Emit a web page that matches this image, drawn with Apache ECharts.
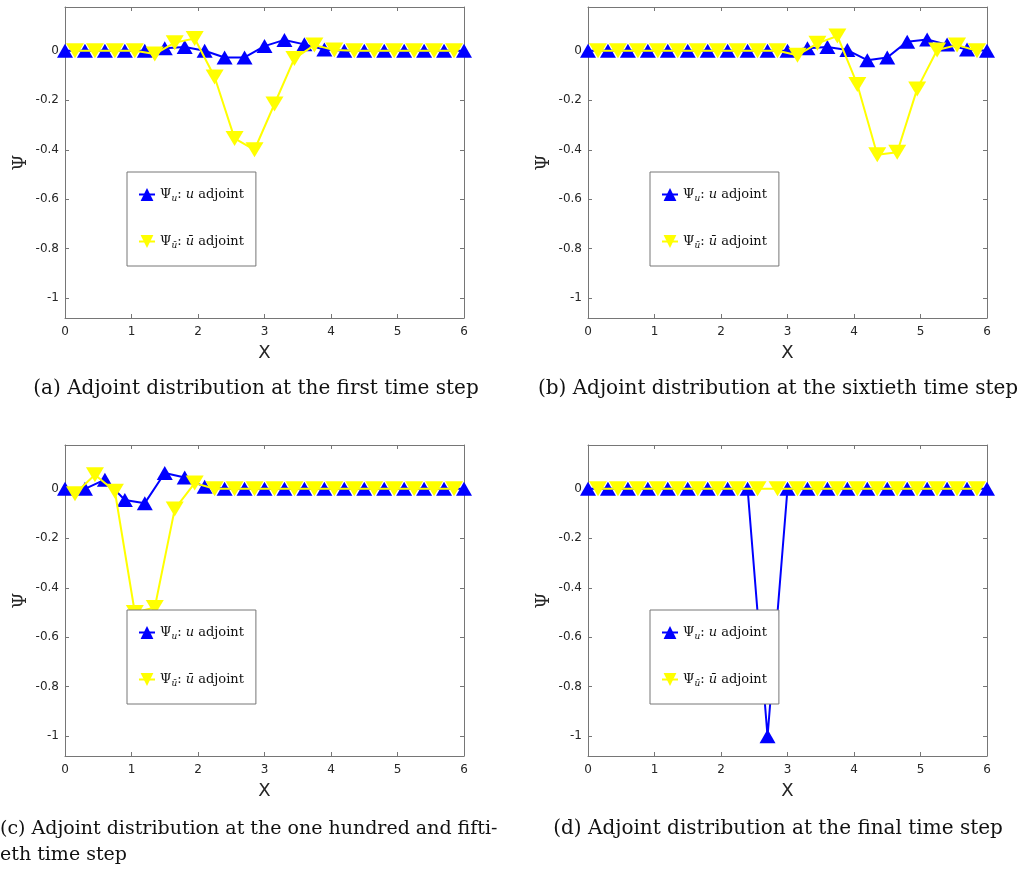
<!DOCTYPE html>
<html>
<head>
<meta charset="utf-8">
<script src="https://cdn.jsdelivr.net/npm/echarts@6/dist/echarts.min.js"></script>
<style>
  html, body { margin: 0; padding: 0; background: #fff; }
  #chart { width: 1025px; height: 869px; }
</style>
</head>
<body>
<div id="chart"></div>
<script>
// grid nodes carry u, cell centres carry u bar
const xNodes = [0, 0.3, 0.6, 0.9, 1.2, 1.5, 1.8, 2.1, 2.4, 2.7, 3.0, 3.3, 3.6, 3.9, 4.2, 4.5, 4.8, 5.1, 5.4, 5.7, 6.0]
const xCells = [0.15, 0.45, 0.75, 1.05, 1.35, 1.65, 1.95, 2.25, 2.55, 2.85, 3.15, 3.45, 3.75, 4.05, 4.35, 4.65, 4.95, 5.25, 5.55, 5.85]

// (a) first time step
const uFirst = [0, 0, 0, 0, 0, 0.01, 0.015, 0, -0.027, -0.027, 0.019, 0.044, 0.026, 0.005, 0, 0, 0, 0, 0, 0, 0]
const ubarFirst = [0, 0, 0, 0, -0.013, 0.033, 0.05, -0.106, -0.354, -0.4, -0.215, -0.031, 0.023, 0.003, 0, 0, 0, 0, 0, 0]
// (b) sixtieth time step
const uSixtieth = [0, 0, 0, 0, 0, 0, 0, 0, 0, 0, 0, 0.01, 0.015, 0.003, -0.038, -0.027, 0.037, 0.046, 0.025, 0.005, 0]
const ubarSixtieth = [0, 0, 0, 0, 0, 0, 0, 0, 0, 0, -0.018, 0.03, 0.06, -0.136, -0.42, -0.41, -0.154, 0.003, 0.023, 0]
// (c) one hundred and fiftieth time step
const u150 = [0, 0, 0.037, -0.045, -0.058, 0.064, 0.046, 0.008, 0, 0, 0, 0, 0, 0, 0, 0, 0, 0, 0, 0, 0]
const ubar150 = [-0.02, 0.057, -0.01, -0.5, -0.48, -0.082, 0.023, 0, 0, 0, 0, 0, 0, 0, 0, 0, 0, 0, 0, 0]
// (d) final time step
const uFinal = [0, 0, 0, 0, 0, 0, 0, 0, 0, -1, 0, 0, 0, 0, 0, 0, 0, 0, 0, 0, 0]
const ubarFinal = [0, 0, 0, 0, 0, 0, 0, 0, 0, 0, 0, 0, 0, 0, 0, 0, 0, 0, 0, 0]

const yTicks = [-1, -0.8, -0.6, -0.4, -0.2, 0]
const captions = [
  '(a) Adjoint distribution at the first time step',
  '(b) Adjoint distribution at the sixtieth time step',
  '(c) Adjoint distribution at the one hundred and fifti-',
  'eth time step',
  '(d) Adjoint distribution at the final time step'
]
const legendLabels = {
  u: '{n|Ψ}{s|u}{n|: }{i|u}{n| adjoint}',
  ubar: '{n|Ψ}{s|ū}{n|: }{i|ū}{n| adjoint}'
}

const uSets = [uFirst, uSixtieth, u150, uFinal]
const ubarSets = [ubarFirst, ubarSixtieth, ubar150, ubarFinal]
const gridPos = [[65, 7], [588, 7], [65, 445], [588, 445]]

const axisColor = '#767676'
const textColor = '#262626'

let grid = []
let xAxis = []
let yAxis = []
let legend = []
let series = []

gridPos.forEach((p, i) => {
  grid.push({ left: p[0], top: p[1], width: 399, height: 311 })
  let tick = { inside: true, length: 4, lineStyle: { color: axisColor } }
  let line = { show: true, onZero: false, lineStyle: { color: axisColor, width: 1 } }
  xAxis.push({
    gridIndex: i, type: 'value', min: 0, max: 6, interval: 1,
    axisLine: line, axisTick: tick, splitLine: { show: false },
    axisLabel: { color: textColor, fontSize: 12, fontFamily: 'DejaVu Sans', margin: 8 },
    name: 'X', nameLocation: 'middle', nameGap: 26,
    nameTextStyle: { color: textColor, fontSize: 18, fontFamily: 'DejaVu Sans' }
  })
  xAxis.push({
    gridIndex: i, type: 'value', position: 'top', min: 0, max: 6, interval: 1,
    axisLine: line, axisTick: tick, splitLine: { show: false }, axisLabel: { show: false }
  })
  yAxis.push({
    gridIndex: i, type: 'value', min: -1.08, max: 0.177,
    axisLine: line, splitLine: { show: false },
    axisTick: Object.assign({ customValues: yTicks }, tick),
    axisLabel: { customValues: yTicks, color: textColor, fontSize: 12, fontFamily: 'DejaVu Sans', margin: 6 },
    name: 'Ψ', nameLocation: 'middle', nameGap: 35,
    nameTextStyle: { color: textColor, fontSize: 18, fontFamily: 'DejaVu Serif' }
  })
  yAxis.push({
    gridIndex: i, type: 'value', position: 'right', min: -1.08, max: 0.177,
    axisLine: line, splitLine: { show: false },
    axisTick: Object.assign({ customValues: yTicks }, tick),
    axisLabel: { show: false }
  })
  legend.push({
    data: ['u', 'ubar'], orient: 'vertical', left: p[0] + 62, top: p[1] + 165,
    selectedMode: false, backgroundColor: '#fff', borderColor: axisColor, borderWidth: 1,
    borderRadius: 0, padding: [16, 12, 16, 11], itemGap: 32, itemWidth: 16, itemHeight: 16,
    formatter: n => legendLabels[n],
    textStyle: {
      color: '#111',
      rich: {
        n: { fontFamily: 'DejaVu Serif', fontSize: 13, lineHeight: 16, color: '#111' },
        i: { fontFamily: 'DejaVu Serif', fontStyle: 'italic', fontSize: 13, lineHeight: 16, color: '#111' },
        s: { fontFamily: 'DejaVu Serif', fontStyle: 'italic', fontSize: 9, lineHeight: 17, verticalAlign: 'bottom', color: '#111' }
      }
    }
  })
  series.push({
    name: 'u', type: 'line', xAxisIndex: 2 * i, yAxisIndex: 2 * i, z: 2,
    data: xNodes.map((x, k) => [x, uSets[i][k]]),
    symbol: 'triangle', symbolSize: [16, 14],
    itemStyle: { color: '#0000ff' }, lineStyle: { color: '#0000ff', width: 2 }
  })
  series.push({
    name: 'ubar', type: 'line', xAxisIndex: 2 * i, yAxisIndex: 2 * i, z: 3,
    data: xCells.map((x, k) => [x, ubarSets[i][k]]),
    symbol: 'triangle', symbolRotate: 180, symbolSize: [18, 15],
    itemStyle: { color: '#ffff00' }, lineStyle: { color: '#ffff00', width: 2 }
  })
})

const capFont = { fontFamily: 'DejaVu Serif', fontSize: 20, fill: '#111' }
const graphic = [
  { type: 'text', x: 256, y: 389, style: Object.assign({ text: captions[0], align: 'center', verticalAlign: 'middle' }, capFont) },
  { type: 'text', x: 778, y: 389, style: Object.assign({ text: captions[1], align: 'center', verticalAlign: 'middle' }, capFont) },
  { type: 'text', x: 0, y: 829, style: Object.assign({ text: captions[2], align: 'left', verticalAlign: 'middle' }, capFont, { fontSize: 19 }) },
  { type: 'text', x: 0, y: 855, style: Object.assign({ text: captions[3], align: 'left', verticalAlign: 'middle' }, capFont, { fontSize: 19 }) },
  { type: 'text', x: 778, y: 829, style: Object.assign({ text: captions[4], align: 'center', verticalAlign: 'middle' }, capFont) }
]

let myChart = echarts.init(document.getElementById('chart'))
myChart.setOption({
  animation: false,
  backgroundColor: '#fff',
  grid: grid,
  xAxis: xAxis,
  yAxis: yAxis,
  legend: legend,
  series: series,
  graphic: graphic
})
</script>
</body>
</html>
